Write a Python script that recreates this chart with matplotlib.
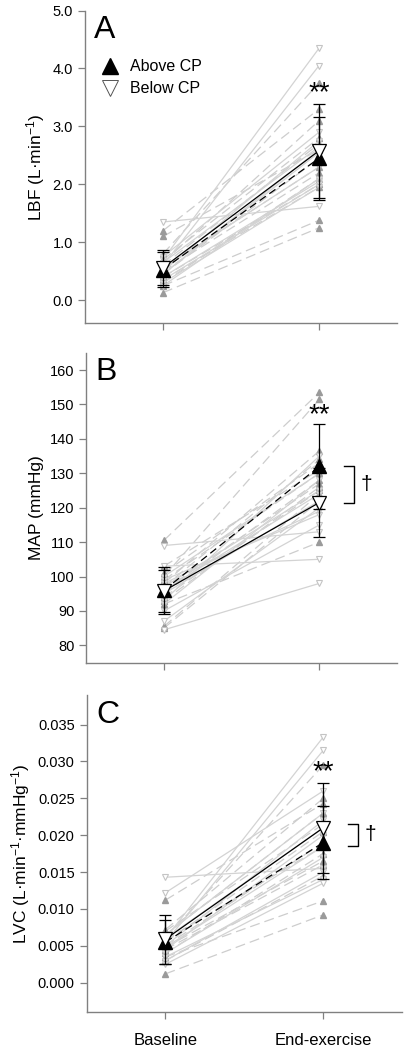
import numpy as np
import matplotlib
matplotlib.use("Agg")
import matplotlib.pyplot as plt
from matplotlib.lines import Line2D

plt.rcParams['font.family'] = ['Liberation Sans', 'DejaVu Sans']
plt.rcParams['mathtext.fontset'] = 'custom'
plt.rcParams['mathtext.rm'] = 'Liberation Sans'
plt.rcParams['mathtext.it'] = 'Liberation Sans:italic'

timepoints = ["Baseline", "End-exercise"]

# individual subjects, [baseline, end-exercise]
lbf_above = [[1.20, 3.30], [1.10, 2.60], [0.80, 3.75], [0.70, 2.80], [0.65, 3.10],
             [0.60, 2.70], [0.55, 2.30], [0.50, 2.20], [0.45, 2.45], [0.40, 2.00],
             [0.35, 1.95], [0.30, 2.10], [0.25, 1.38], [0.13, 1.25]]
lbf_below = [[1.35, 1.62], [0.70, 4.35], [0.60, 4.05], [0.75, 2.90], [0.50, 2.75],
             [0.65, 2.65], [0.45, 2.55], [0.40, 2.05], [0.35, 2.00], [0.55, 2.30],
             [0.30, 1.95], [0.25, 2.10], [0.45, 2.60]]
map_above = [[110.5, 153.5], [100, 151.5], [98, 136.5], [97, 134], [103, 131],
             [95, 128], [93, 126], [85.5, 124], [99, 130], [92, 110],
             [85, 122], [101, 133], [96, 127], [94, 125]]
map_below = [[109, 113], [103, 105], [84.5, 98], [87, 120], [93, 135],
             [100, 130], [97, 125], [99, 118], [95, 122], [90, 115],
             [92, 128], [98, 119], [96, 124]]
lvc_above = [[0.0112, 0.0243], [0.0012, 0.0092], [0.0035, 0.0111], [0.0060, 0.0295],
             [0.0055, 0.0205], [0.0050, 0.0190], [0.0070, 0.0215], [0.0045, 0.0160],
             [0.0040, 0.0175], [0.0065, 0.0230], [0.0030, 0.0145], [0.0058, 0.0185],
             [0.0072, 0.0250], [0.0048, 0.0165]]
lvc_below = [[0.0143, 0.0155], [0.0122, 0.0260], [0.0060, 0.0333], [0.0055, 0.0315],
             [0.0050, 0.0220], [0.0045, 0.0200], [0.0040, 0.0170], [0.0035, 0.0140],
             [0.0065, 0.0230], [0.0030, 0.0150], [0.0025, 0.0135], [0.0060, 0.0210],
             [0.0048, 0.0185]]

# group means and SD
lbf_mean_above = [0.53, 2.45]
lbf_sd_above = [0.30, 0.72]
lbf_mean_below = [0.56, 2.58]
lbf_sd_below = [0.30, 0.81]
map_mean_above = [96.0, 132.0]
map_sd_above = [6.8, 12.3]
map_mean_below = [95.8, 121.5]
map_sd_below = [6.2, 9.9]
lvc_mean_above = [0.0055, 0.0190]
lvc_sd_above = [0.0030, 0.0049]
lvc_mean_below = [0.0059, 0.0210]
lvc_sd_below = [0.0033, 0.0061]

panels = [
    dict(letter="A", above=lbf_above, below=lbf_below,
         ma=lbf_mean_above, sa=lbf_sd_above, mb=lbf_mean_below, sb=lbf_sd_below,
         ylabel="LBF (L·min$^{-1}$)", ylim=(-0.4, 5.0), ticks=np.arange(0, 5.01, 1.0),
         fmt="{:.1f}", star_y=3.58, dagger=None),
    dict(letter="B", above=map_above, below=map_below,
         ma=map_mean_above, sa=map_sd_above, mb=map_mean_below, sb=map_sd_below,
         ylabel="MAP (mmHg)", ylim=(75, 165), ticks=np.arange(80, 161, 10),
         fmt="{:.0f}", star_y=147.0, dagger=(132.0, 121.4)),
    dict(letter="C", above=lvc_above, below=lvc_below,
         ma=lvc_mean_above, sa=lvc_sd_above, mb=lvc_mean_below, sb=lvc_sd_below,
         ylabel="LVC (L·min$^{-1}$·mmHg$^{-1}$)", ylim=(-0.004, 0.039),
         ticks=np.arange(0, 0.0351, 0.005), fmt="{:.3f}", star_y=0.0286,
         dagger=(0.0215, 0.0186)),
]

rects = [
    [0.206, 0.692, 0.758, 0.298],
    [0.209, 0.369, 0.755, 0.295],
    [0.210, 0.036, 0.766, 0.302],
]

fig = plt.figure(figsize=(4.12, 10.5), dpi=100)
x = np.array([0, 1])
spine_col = "#808080"

for p, r in zip(panels, rects):
    ax = fig.add_axes(r)

    for subj in p["above"]:
        ax.plot(x, subj, color="#cdcdcd", lw=0.9, ls=(0, (8, 4)), zorder=1)
        ax.plot(x, subj, ls="none", marker="^", ms=4, color="#9a9a9a",
                mec="#9a9a9a", zorder=2)
    for subj in p["below"]:
        ax.plot(x, subj, color="#d3d3d3", lw=0.9, zorder=1)
        ax.plot(x, subj, ls="none", marker="v", ms=4, mfc="white",
                mec="#c4c4c4", mew=0.8, zorder=2)

    ax.errorbar(x, p["ma"], yerr=p["sa"], color="black", ls=(0, (6, 3.5)), lw=0.9,
                elinewidth=0.9, capsize=4.5, capthick=0.9, marker="^", ms=10.5,
                mfc="black", mec="black", zorder=4)
    ax.errorbar(x, p["mb"], yerr=p["sb"], color="black", ls="-", lw=0.9,
                elinewidth=0.9, capsize=4.5, capthick=0.9, marker="v", ms=10.5,
                mfc="white", mec="black", mew=0.9, zorder=5)

    ax.text(1.0, p["star_y"], "**", ha="center", va="center", fontsize=20,
            zorder=6)

    if p["dagger"] is not None:
        hi, lo = p["dagger"]
        ax.plot([1.155, 1.222, 1.222, 1.155], [hi, hi, lo, lo], color="black",
                lw=1.0, clip_on=False)
        ax.text(1.265, (hi + lo) / 2, "†", ha="left", va="center", fontsize=15)

    ax.text(0.03, 0.985, p["letter"], transform=ax.transAxes, ha="left",
            va="top", fontsize=23)

    ax.set_xlim(-0.5, 1.5)
    ax.set_ylim(*p["ylim"])
    ax.set_yticks(p["ticks"])
    ax.set_yticklabels([p["fmt"].format(t) for t in p["ticks"]], fontsize=10.5)
    ax.set_xticks(x)
    if p["letter"] == "C":
        ax.set_xticklabels(timepoints, fontsize=12)
    else:
        ax.set_xticklabels([])
    ax.set_ylabel(p["ylabel"], fontsize=12.5)

    for side in ["top", "right"]:
        ax.spines[side].set_visible(False)
    for side in ["left", "bottom"]:
        ax.spines[side].set_color(spine_col)
        ax.spines[side].set_linewidth(1.0)
    ax.tick_params(colors=spine_col, labelcolor="black", length=5, width=0.9)
    ax.tick_params(axis="x", pad=10)

    if p["letter"] == "A":
        handles = [
            Line2D([0], [0], ls="none", marker="^", ms=11, mfc="black", mec="black"),
            Line2D([0], [0], ls="none", marker="v", ms=11, mfc="white",
                   mec="#555555", mew=0.7),
        ]
        ax.legend(handles, ["Above CP", "Below CP"], loc="upper left",
                  bbox_to_anchor=(0.005, 0.89), frameon=False, fontsize=11.5,
                  handletextpad=0.6, labelspacing=0.45, handlelength=1.2)

fig.savefig("out.png", dpi=100)
